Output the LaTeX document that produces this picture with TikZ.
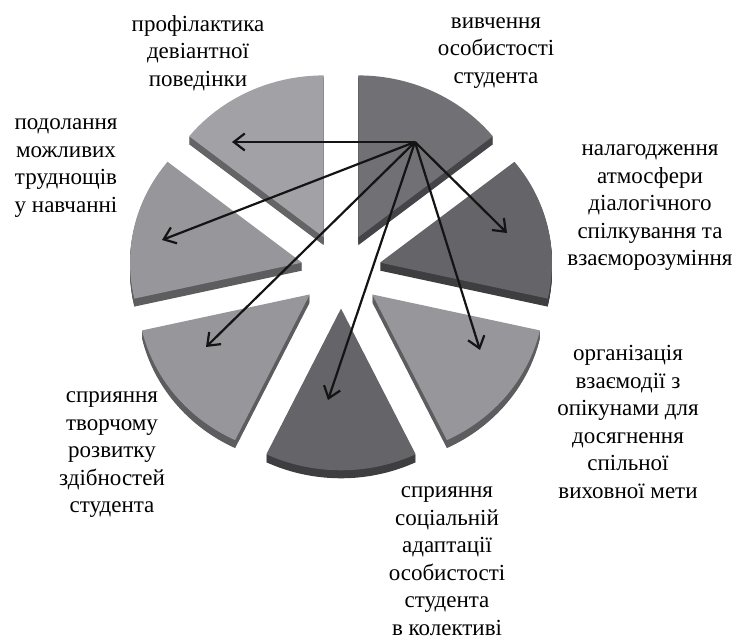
\documentclass[tikz,border=0pt]{standalone}
\usepackage{fontspec}
\setmainfont{Liberation Serif}
\usepackage{tikz}
\usetikzlibrary{arrows.meta,calc}
\definecolor{pieDarkA}{HTML}{707075}
\definecolor{pieDarkB}{HTML}{646469}
\definecolor{pieLight}{HTML}{96969B}
\definecolor{pieLightB}{HTML}{A2A2A6}
\tikzset{
  pie/top/.style={fill=#1},
  pie/side/.style={fill=#1!62!black},
  pie/label/.style={align=center, inner sep=0pt, font=\fontsize{23}{27.5}\selectfont},
  pie/arrow/.style={line width=2.2pt, draw=black!92, -{Straight Barb[length=11pt,width=17pt]}}
}

\begin{document}
\begin{tikzpicture}[x=1pt, y=1pt]
  \useasboundingbox (0,0) rectangle (738,643);
  \coordinate (centre) at (341,372);

  % exploded slices: mid angle / colour of the top face
  \foreach \mid/\col in {64.29/pieDarkA, 12.86/pieDarkB, -38.57/pieLight, -90/pieDarkB,
                         -141.43/pieLight, 167.14/pieLight, 115.71/pieLightB} {
    \begin{scope}[shift={($(centre)+({\mid}:40pt and 37.6pt)$)}]
      \foreach \d in {1,...,8}
        \fill[pie/side=\col] (0,-\d) -- ++({\mid-25.714}:172pt and 161.7pt)
          arc[start angle={\mid-25.714}, delta angle=51.43, x radius=172pt, y radius=161.7pt] -- cycle;
      \fill[pie/top=\col] (0,0) -- ({\mid-25.714}:172pt and 161.7pt)
        arc[start angle={\mid-25.714}, delta angle=51.43, x radius=172pt, y radius=161.7pt] -- cycle;
    \end{scope}
  }

  \node[pie/label] (vyvchennia) at (496,590) {вивчення\\особистості\\студента};
  \node[pie/label] (nalagodzh) at (650,435) {налагодження\\атмосфери\\діалогічного\\спілкування та\\взаєморозуміння};
  \node[pie/label] (orhanizac) at (628,221) {організація\\взаємодії з\\опікунами для\\досягнення\\спільної\\виховної мети};
  \node[pie/label] (adaptac) at (447,82) {сприяння\\соціальній\\адаптації\\особистості\\студента\\в колективі};
  \node[pie/label] (tvorchist) at (112,188) {сприяння\\творчому\\розвитку\\здібностей\\студента};
  \node[pie/label] (podolannia) at (66,475) {подолання\\можливих\\труднощів\\у навчанні};
  \node[pie/label] (profilakt) at (198,590) {профілактика\\девіантної\\поведінки};

  \coordinate (src) at (415,501);
  \coordinate (toProfil) at (232,501);
  \coordinate (toPodol) at (162,403);
  \coordinate (toTvorch) at (206,296);
  \coordinate (toAdapt) at (328,243);
  \coordinate (toOrhan) at (480,293);
  \coordinate (toNalag) at (507,410);

  \foreach \t in {toProfil,toPodol,toTvorch,toAdapt,toOrhan,toNalag}
    \draw[pie/arrow] (src) -- (\t);
\end{tikzpicture}
\end{document}
